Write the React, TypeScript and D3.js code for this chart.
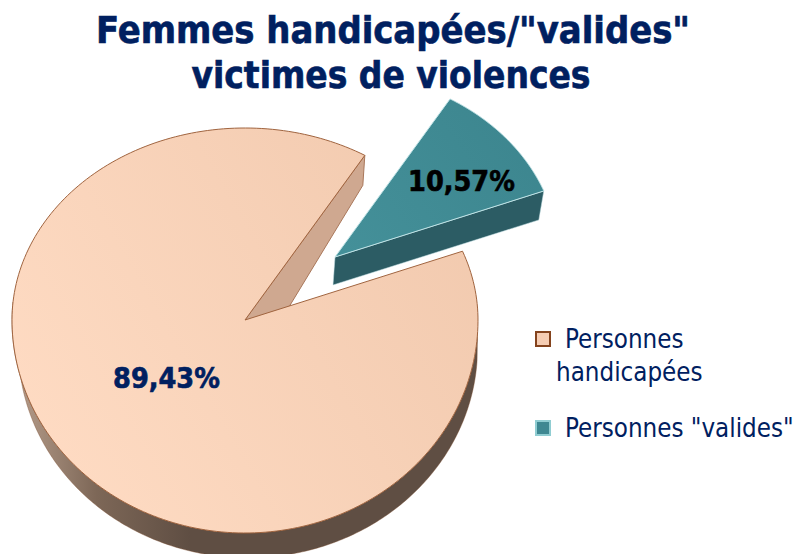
import React from "react";
import * as d3 from "d3";

const categories = ["Personnes handicapées", 'Personnes "valides"'];
const values = [89.43, 10.57];
const valueLabels = ["89,43%", "10,57%"];

const W = 796, H = 554;
const cx = 245, cy = 320;
const rx = 233, ryTop = 192, ryBottom = 213;
const depth = 28;
const startDeg = 69; // big slice begins here, clockwise

const pie = d3.pie<number>().sort(null).startAngle((startDeg * Math.PI) / 180).endAngle((startDeg * Math.PI) / 180 + 2 * Math.PI);
const arcs = pie(values);

function pt(a: number, k = 1, ox = 0, oy = 0): [number, number] {
  const c = Math.cos(a);
  return [cx + ox + k * rx * Math.sin(a), cy + oy - k * (c > 0 ? ryTop : ryBottom) * c];
}
const line = d3.line();
const sweep = (a0: number, a1: number, k = 1, ox = 0, oy = 0) =>
  d3.range(0, 241).map((i) => pt(a0 + ((a1 - a0) * i) / 240, k, ox, oy));

const big = arcs[0];
const small = arcs[1];

const bigTop = line([[cx, cy], ...sweep(big.startAngle, big.endAngle)])! + "Z";
// rim of big slice: lower part of the outline dropped by the depth
const rimA0 = Math.PI * 0.52, rimA1 = Math.PI * 1.53;
const rimOuter = sweep(rimA0, rimA1);
const rimLower = sweep(rimA1, rimA0, 0.985, 3, depth);
const bigRim = line([...rimOuter, ...rimLower])! + "Z";
// inner wall visible at the end of the big slice
const e = pt(big.endAngle);
const wallFrac = 0.25;
const bigWall = line([
  [cx, cy],
  e,
  [e[0] - 2, e[1] + 30],
  [cx + (e[0] - cx) * wallFrac, cy + 10],
])! + "Z";

const ox = 90, oy = -63, k = 0.96;
const smallEdge = sweep(small.startAngle, small.endAngle, k, ox, oy);
const smallTop = line([[cx + ox, cy + oy], ...smallEdge])! + "Z";
const sA = [cx + ox, cy + oy] as [number, number];
const sB = smallEdge[smallEdge.length - 1];
const smallWall = line([sA, sB, [sB[0] - 5, sB[1] + depth + 1], [sA[0] - 2, sA[1] + depth]])! + "Z";

const navy = "#002060";
const font = "'DejaVu Sans Condensed','DejaVu Sans',sans-serif";

export default function App() {
  return (
    <svg width={W} height={H} viewBox={`0 0 ${W} ${H}`} style={{ position: "absolute", left: 0, top: 0, background: "#fff" }}>
      <defs>
        <linearGradient id="top" gradientUnits="userSpaceOnUse" x1={30} y1={500} x2={480} y2={240}>
          <stop offset="0" stopColor="#ffdcc4" />
          <stop offset="1" stopColor="#f2caaf" />
        </linearGradient>
        <linearGradient id="rim" gradientUnits="userSpaceOnUse" x1={20} y1={0} x2={190} y2={0}>
          <stop offset="0" stopColor="#b39a88" />
          <stop offset="0.45" stopColor="#7d6757" />
          <stop offset="1" stopColor="#5f4e43" />
        </linearGradient>
        <linearGradient id="teal" gradientUnits="userSpaceOnUse" x1={340} y1={250} x2={540} y2={110}>
          <stop offset="0" stopColor="#449099" />
          <stop offset="1" stopColor="#3c858e" />
        </linearGradient>
      </defs>

      <path d={bigRim} fill="url(#rim)" stroke="#7a4a2c" strokeWidth={0.4} />
      <path d={bigWall} fill="#cfa890" stroke="#a9775a" strokeWidth={1} strokeLinejoin="round" />
      <path d={bigTop} fill="url(#top)" stroke="#a0643f" strokeWidth={1} strokeLinejoin="round" />

      <path d={smallWall} fill="#2c5c64" stroke="#c6e3e6" strokeWidth={0.5} />
      <path d={smallTop} fill="url(#teal)" stroke="#bfe3e6" strokeWidth={1} strokeLinejoin="round" />

      <g fontFamily={font} fontWeight={700} textAnchor="middle" fill={navy} stroke={navy} strokeWidth={0.6}>
        <text x={393} y={43} fontSize={37.5} textLength={594} lengthAdjust="spacingAndGlyphs">Femmes handicapées/"valides"</text>
        <text x={391} y={88} fontSize={37.5} textLength={399} lengthAdjust="spacingAndGlyphs">victimes de violences</text>
        <text x={166.5} y={388} fontSize={28.5}>{valueLabels[0]}</text>
        <text x={461.5} y={191} fontSize={28.5} fill="#000" stroke="#000">{valueLabels[1]}</text>
      </g>

      <g fontFamily={font} fill={navy} fontSize={25.7}>
        <rect x={536} y={332} width={14} height={14} fill="#f6cdb3" stroke="#84431d" strokeWidth={2} />
        <text x={565} y={348}>Personnes</text>
        <text x={556} y={381}>handicapées</text>
        <rect x={536} y={421} width={14} height={14} fill="#3f8892" stroke="#90cdd2" strokeWidth={2} />
        <text x={565} y={437}>{categories[1]}</text>
      </g>
    </svg>
  );
}
